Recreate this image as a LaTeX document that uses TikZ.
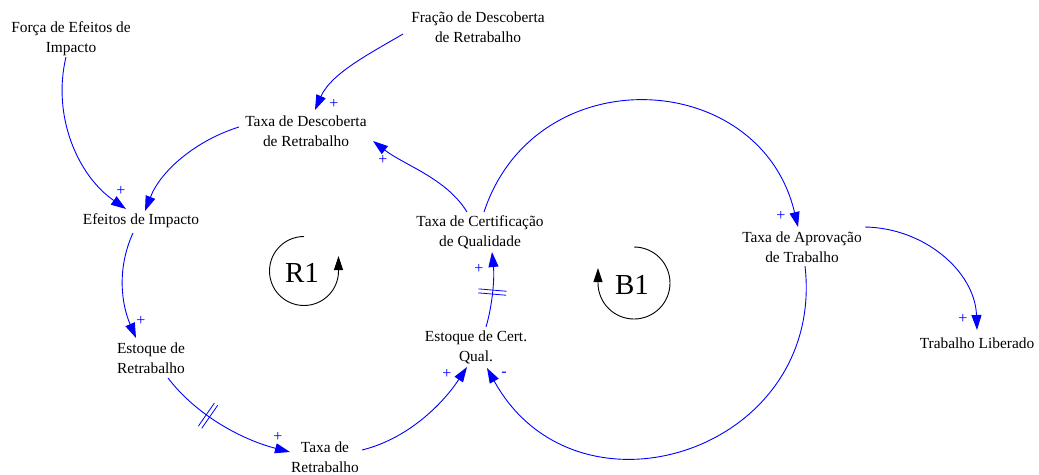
\documentclass[tikz,border=0pt]{standalone}
\usepackage{fontspec}
\setmainfont{Liberation Serif}
\usetikzlibrary{arrows.meta,calc,decorations.markings}

\tikzset{
  var/.style={align=center, inner sep=0pt, font=\fontsize{15.4}{20}\selectfont},
  link/.style={draw=blue, line width=0.9pt, -{Triangle[length=15pt,width=10pt]}},
  sign/.style={text=blue, inner sep=0pt, font=\fontsize{16}{16}\selectfont},
  looplabel/.style={inner sep=0pt, font=\fontsize{29}{29}\selectfont},
  loopline/.style={draw=black, line width=0.9pt, -{Triangle[length=14pt,width=9pt]}},
  delaymark/.style={postaction={decorate, decoration={markings,
      mark=at position #1 with {\draw[blue, line width=0.8pt, arrows=-] (-2,-14) -- (-2,14) (2,-14) -- (2,14);}}}}
}

\begin{document}
\begin{tikzpicture}[x=1pt, y=1pt]
\useasboundingbox (0,0) rectangle (1039,-474);

% variables
\node[var] (fe) at (71,-39)   {Força de Efeitos de\\Impacto};
\node[var] (fd) at (478,-27.5){Fração de Descoberta\\de Retrabalho};
\node[var] (td) at (306,-131) {Taxa de Descoberta\\de Retrabalho};
\node[var] (ei) at (141,-221) {Efeitos de Impacto};
\node[var] (tc) at (480,-232) {Taxa de Certificação\\de Qualidade};
\node[var] (ta) at (802,-247) {Taxa de Aprovação\\de Trabalho};
\node[var] (tl) at (977,-343) {Trabalho Liberado};
\node[var] (er) at (151,-358) {Estoque de\\Retrabalho};
\node[var] (ec) at (476,-347) {Estoque de Cert.\\Qual.};
\node[var] (tr) at (325,-457) {Taxa de\\Retrabalho};

% causal links
\draw[link] ($(fe)+(-5,-18)$) .. controls +(-14,-58) and +(-49,34) .. ($(ei)+(-15,12)$);
\draw[link] ($(td)+(-67,4)$) .. controls +(-42,-13) and +(16,41) .. ($(ei)+(4,10)$);
\draw[link] ($(fd)+(-75,-6.5)$) .. controls +(-34,-20) and +(16,36.5) .. ($(td)+(9,21)$);
\draw[link] ($(ei)+(-8,-12)$) .. controls +(-16,-35) and +(-15,35) .. ($(er)+(-15,20)$);
\draw[link, delaymark=0.38] ($(er)+(17,-20)$) .. controls +(29,-38) and +(-47,12) .. ($(tr)+(-35,5)$);
\draw[link] ($(tr)+(37,7)$) .. controls +(45,11) and +(-25,-38) .. ($(ec)+(-9,-20)$);
\draw[link, delaymark=0.47] ($(ec)+(10,20)$) .. controls +(7,24) and +(2.5,-25) .. ($(tc)+(12,-20)$);
\draw[link] ($(tc)+(-13,20)$) .. controls +(-20.5,33.6) and +(31.2,-24.1) .. ($(td)+(67,-10)$);
\draw[link] ($(tc)+(4,20)$) .. controls +(51.4,155.4) and +(-37.7,159.4) .. ($(ta)+(-4,20)$);
\draw[link] ($(ta)+(3,-19)$) .. controls +(21,-185) and +(90,-163) .. ($(ec)+(11,-21)$);
\draw[link] ($(ta)+(63,20)$) .. controls +(60,-1) and +(-2,58) .. ($(tl)+(0,13)$);

% polarities
\node[sign] (s1) at (334,-104) {+};
\node[sign] (s2) at (121,-191) {+};
\node[sign] (s3) at (383,-160) {+};
\node[sign] (s4) at (141,-321) {+};
\node[sign] (s5) at (278,-437) {+};
\node[sign] (s6) at (447,-374) {+};
\node[sign] (s7) at (504,-374) {-};
\node[sign] (s8) at (479,-269) {+};
\node[sign] (s9) at (781,-216) {+};
\node[sign] (s10) at (963,-319) {+};

% loop markers
\node[looplabel] (r1) at (302,-273) {R1};
\draw[loopline] (304,-236.5) arc[start angle=90, end angle=360, radius=34.5] -- ++(0,15);
\node[looplabel] (b1) at (632,-285) {B1};
\draw[loopline] (634,-247) arc[start angle=90, end angle=-180, radius=36] -- ++(0,15);
\end{tikzpicture}
\end{document}
